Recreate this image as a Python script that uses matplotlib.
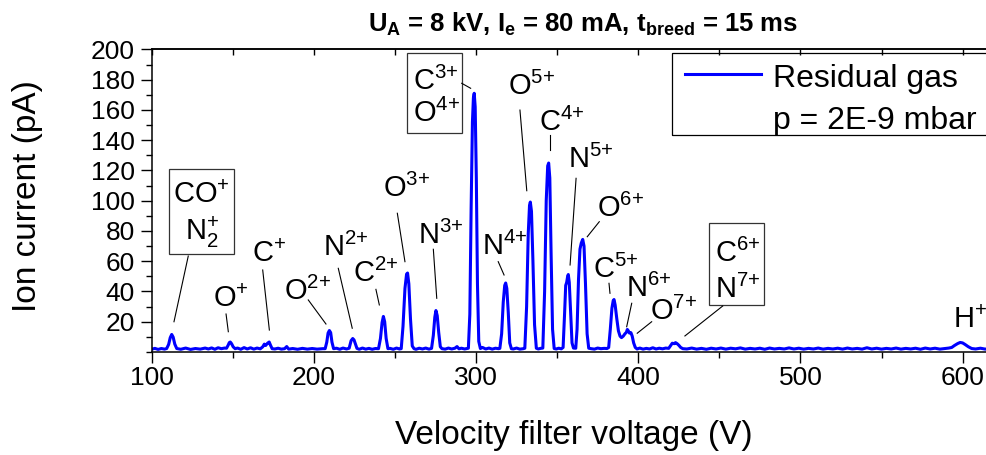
import matplotlib
matplotlib.use("Agg")
import matplotlib.pyplot as plt
from matplotlib.patches import Rectangle
from matplotlib.lines import Line2D
from matplotlib.ticker import MultipleLocator

plt.rcParams['font.family'] = ['Liberation Sans', 'DejaVu Sans']
plt.rcParams['mathtext.fontset'] = 'custom'
plt.rcParams['mathtext.rm'] = 'Liberation Sans'
plt.rcParams['mathtext.it'] = 'Liberation Sans:italic'
plt.rcParams['mathtext.bf'] = 'Liberation Sans:bold'

# ---------------- data ----------------
voltage = [
    100, 102, 104, 106, 108,
    109.3, 110.5, 111.5, 112.4, 113.3, 114.3, 115.5,
    118, 121, 124, 127, 130, 133, 135, 137, 139, 141, 143, 145,
    146.2, 147.2, 147.9, 148.5, 149.3, 150.3, 151.5,
    153, 155, 157, 159, 161, 163, 165, 167,
    168.5, 169.5, 170.3, 171.5, 172.5, 173.3, 174.3,
    176, 178, 180, 182, 183.3, 184.5, 187, 190, 193, 196, 199, 202, 205.5,
    207.0, 208.0, 208.8, 209.6, 210.4, 211.2, 212.2,
    214, 216, 218, 220.2,
    221.8, 223.0, 224.0, 224.8, 225.6, 226.6,
    228, 230, 232, 234, 236, 238,
    239.9, 241.1, 242.1, 242.9, 243.7, 244.6, 245.7,
    247, 249, 251, 252.8,
    253.9, 255.0, 256.2, 257.2, 257.8, 258.6, 259.6, 260.7, 261.8,
    263, 265, 267, 269, 271,
    272.6, 273.7, 274.6, 275.3, 276.1, 277.0, 278.0, 279.0,
    281, 283, 285, 287, 288.3, 289.5, 291, 293, 294.6,
    295.3, 296.2, 297.0, 297.8, 298.4, 298.9, 299.5, 300.2, 300.9, 301.7, 302.7,
    304, 306, 308, 310, 312, 313.9,
    314.7, 315.8, 316.8, 317.7, 318.3, 319.0, 319.9, 320.8, 321.8,
    323, 325, 327, 329.2,
    330.1, 331.2, 332.2, 333.0, 333.5, 334.2, 335.1, 336.1, 337.2,
    338.4, 339.8,
    341.2, 342.3, 343.3, 344.2, 344.8, 345.5, 346.3, 347.2, 348.2,
    349.5, 351, 352.6,
    353.7, 354.6, 355.3, 355.9, 356.5, 356.9, 357.5, 358.3, 359.2, 360.1,
    361.5, 362.3, 363.2, 364.1, 364.9, 365.8, 366.6, 367.5, 368.5, 369.5,
    371, 373, 375, 377, 379, 380.8,
    381.8, 382.8, 383.8, 384.6, 385.1, 385.8, 386.8, 387.8, 388.8, 389.7,
    390.8, 391.8, 392.7, 393.3, 393.9, 394.6, 395.5, 396.3, 397.2, 398.2, 399.3,
    401, 403, 405, 407, 409, 411, 413, 415, 417, 418.8,
    419.8, 421, 422.2, 423, 424, 425, 426.2, 427.5,
    430, 433, 436, 439, 442, 445, 448, 451, 454, 457,
    460, 463, 466, 469, 472, 475, 478, 481, 484, 487,
    490, 493, 496, 499, 502, 505, 508, 511, 514, 517,
    520, 523, 526, 529, 532, 535, 538, 541, 544, 547,
    550, 553, 556, 559, 562, 565, 568, 571, 574, 577,
    580, 583, 586, 589, 591.5,
    593.3, 595, 597, 598.5, 600, 601.5, 603.5, 605.6,
    608, 611, 614, 617, 620,
]
current = [
    1.8, 2.4, 1.7, 2.3, 1.9,
    2.3, 5.0, 9.5, 11.6, 9.8, 5.2, 2.3,
    1.8, 2.6, 1.7, 2.3, 1.9, 2.6, 2.0, 2.7, 1.8, 2.8, 2.2, 2.6,
    2.5, 4.5, 6.2, 6.6, 5.5, 3.4, 2.2,
    2.6, 1.8, 2.9, 2.0, 2.8, 1.9, 2.6, 2.1,
    3.4, 5.2, 4.3, 5.8, 6.6, 4.5, 2.2,
    2.0, 2.5, 1.9, 2.2, 3.6, 1.9, 2.3, 1.8, 2.4, 1.9, 2.3, 1.9, 2.2,
    2.2, 6.5, 12.5, 14.2, 12.8, 6.5, 2.2,
    2.5, 1.8, 2.6, 2.0,
    2.5, 7.5, 8.9, 8.0, 5.5, 2.4,
    1.8, 2.6, 1.9, 2.4, 1.8, 2.3,
    2.2, 9.0, 19.5, 23.5, 20.0, 9.0, 2.2,
    2.4, 1.8, 2.6, 2.0,
    2.2, 17, 42, 51.5, 52.2, 45, 22, 4, 2.2,
    1.8, 2.5, 2.0, 2.6, 1.9,
    2.4, 11, 23, 27.4, 24, 13, 3.5, 2.2,
    1.9, 2.6, 2.0, 2.5, 3.6, 2.1, 2.5, 2.0, 2.4,
    2.5, 25, 95, 152, 168, 171, 162, 115, 45, 7, 2.3,
    3.0, 2.0, 2.6, 1.9, 2.5, 2.2,
    2.4, 12, 33, 44, 45.6, 42, 26, 6, 2.2,
    2.0, 2.6, 1.9, 2.2,
    2.5, 30, 78, 97, 99.1, 93, 60, 18, 2.5,
    2.0, 2.4,
    2.6, 40, 100, 123, 124.9, 115, 65, 15, 2.3,
    2.0, 2.5, 2.1,
    3.0, 25, 44, 46, 50, 51.2, 46, 27, 6, 2.6,
    2.5, 15, 48, 68, 72, 74.4, 70, 45, 12, 2.5,
    2.2, 1.9, 2.6, 2.2, 2.4, 2.3,
    3.0, 15, 29, 34, 34.7, 31, 22, 14, 10.5, 9.5,
    10.5, 12, 13, 14.9, 14, 12.5, 12.8, 10.5, 6, 3, 2.0,
    2.6, 1.9, 2.4, 2.0, 2.8, 2.0, 2.5, 2.1, 2.6, 2.4,
    4.0, 5.8, 5.5, 6.2, 5.5, 4.5, 3.0, 2.2,
    2.0, 2.6, 1.9, 2.4, 1.8, 2.5, 2.0, 2.6, 1.9, 2.5,
    2.1, 2.7, 1.9, 2.4, 2.0, 2.5, 1.8, 2.6, 2.0, 2.4,
    2.0, 2.7, 2.0, 2.5, 1.9, 2.4, 2.0, 2.6, 1.9, 2.4,
    2.0, 2.5, 1.9, 2.6, 2.0, 2.4, 1.9, 2.8, 2.0, 2.5,
    1.9, 2.4, 2.0, 2.6, 1.9, 2.4, 2.0, 2.5, 1.8, 2.6,
    2.0, 2.5, 1.9, 2.3, 2.6,
    3.0, 4.3, 5.6, 6.3, 6.0, 5.0, 3.5, 2.3,
    2.0, 2.5, 1.9, 2.4, 2.0,
]
assert len(voltage) == len(current)

x_ticks = [100, 200, 300, 400, 500, 600]
y_ticks = [20, 40, 60, 80, 100, 120, 140, 160, 180, 200]

peak_labels = ['O$^{{+}}$', 'C$^{{+}}$', 'O$^{2{+}}$', 'N$^{2{+}}$', 'C$^{2{+}}$', 'O$^{3{+}}$',
               'N$^{3{+}}$', 'N$^{4{+}}$', 'O$^{5{+}}$', 'C$^{4{+}}$', 'N$^{5{+}}$', 'O$^{6{+}}$',
               'C$^{5{+}}$', 'N$^{6{+}}$', 'O$^{7{+}}$', 'H$^{{+}}$']
boxed_labels = [('CO$^{{+}}$', 'N$_{2}^{{+}}$'), ('C$^{3{+}}$', 'O$^{4{+}}$'),
                ('C$^{6{+}}$', 'N$^{7{+}}$')]

title = r'U$_\mathbf{A}$ = 8 kV, I$_\mathbf{e}$ = 80 mA, t$_\mathbf{breed}$ = 15 ms'
legend_lines = ['Residual gas', 'p = 2E-9 mbar']

# ---------------- layout ----------------
W, H = 986, 455
fig = plt.figure(figsize=(W / 100, H / 100), dpi=100)
ax_left, ax_bottom_px, ax_top_px = 151.6, 352.0, 49.4
x_min, x_max = 100, 620
px_per_v = 1.622
ax = fig.add_axes([ax_left / W, 1 - ax_bottom_px / H,
                   (x_max - x_min) * px_per_v / W, (ax_bottom_px - ax_top_px) / H])

blue = '#0000ff'
ax.plot(voltage, current, color=blue, lw=2.2, solid_joinstyle='round', label=legend_lines[0])
ax.set_xlim(x_min, x_max)
ax.set_ylim(0, 200)
ax.set_xticks(x_ticks)
ax.set_yticks(y_ticks)
ax.xaxis.set_minor_locator(MultipleLocator(50))
ax.yaxis.set_minor_locator(MultipleLocator(10))
ax.tick_params(axis='both', which='major', labelsize=19, length=8, width=1.0, direction='out')
ax.tick_params(axis='both', which='minor', length=4.5, width=1.0, direction='out')
ax.tick_params(axis='x', which='major', pad=2)
ax.tick_params(axis='y', which='major', pad=4)
for sp in ax.spines.values():
    sp.set_linewidth(1.1)
ax.spines['right'].set_visible(False)

# top ticks pointing inward
ax2 = ax.secondary_xaxis('top')
ax2.set_xticks(x_ticks)
ax2.xaxis.set_minor_locator(MultipleLocator(50))
ax2.tick_params(which='both', direction='in', length=4, width=1.0, labeltop=False)
ax2.spines['top'].set_linewidth(1.1)

ax.set_xlabel('Velocity filter voltage (V)', fontsize=24, va='baseline')
ax.xaxis.set_label_coords(0.5, (ax_bottom_px - 444.3) / (ax_bottom_px - ax_top_px))
ax.set_ylabel('Ion current (pA)', fontsize=24, va='baseline')
ax.yaxis.set_label_coords((36.5 - ax_left) / ((x_max - x_min) * px_per_v),
                          (ax_bottom_px - 196.5) / (ax_bottom_px - ax_top_px))

fig.text(583.5 / W, 1 - 32 / H, title, fontsize=18.5, fontweight='bold',
         ha='center', va='baseline')

# ---------------- annotations ----------------
FS = 21
label_pos = [(138.0, 29.9), (161.7, 59.7), (181.6, 34.4), (205.5, 63.5), (224.0, 46.5),
             (242.7, 102.6), (264.4, 71.4), (303.5, 64.1), (319.9, 169.9), (339.0, 146.3),
             (356.9, 121.4), (374.4, 89.4), (372.3, 48.7), (392.5, 36.5), (407.3, 21.2),
             (593.9, 15.7)]
for txt, (x, y) in zip(peak_labels, label_pos):
    ax.text(x, y, txt, fontsize=FS, ha='left', va='baseline')

boxed_pos = [((131.0, 98.3), (131.0, 74.0), (110.9, 64.6, 151.0, 121.0), 'center'),
             ((261.0, 173.2), (261.0, 152.2), (257.6, 144.5, 291.2, 197.8), 'left'),
             ((447.4, 59.7), (447.4, 35.5), (443.8, 31.1, 477.6, 85.1), 'left')]
for (l1, l2), (p1, p2, box, ha) in zip(boxed_labels, boxed_pos):
    ax.text(p1[0], p1[1], l1, fontsize=FS, ha=ha, va='baseline')
    ax.text(p2[0], p2[1], l2, fontsize=FS, ha=ha, va='baseline')
    ax.add_patch(Rectangle((box[0], box[1]), box[2] - box[0], box[3] - box[1],
                           fill=False, ec='#333333', lw=0.9, clip_on=False))

leaders = [((122.6, 63.4), (113.8, 20.0)), ((145.9, 25.1), (147.3, 13.4)),
           ((168.5, 54.2), (172.6, 14.5)), ((196.6, 34.4), (207.5, 18.5)),
           ((215.1, 55.3), (223.7, 15.7)), ((238.3, 41.4), (240.4, 31.1)),
           ((251.5, 91.7), (256.2, 59.7)), ((273.7, 67.9), (275.8, 35.5)),
           ((291.2, 177.6), (296.7, 174.3)), ((313.7, 59.7), (317.3, 50.9)),
           ((327.1, 159.9), (331.3, 106.6)), ((345.6, 143.4), (345.6, 133.5)),
           ((361.7, 114.8), (358.0, 57.5)), ((376.0, 86.1), (368.6, 76.2)),
           ((382.0, 45.4), (382.6, 38.8)), ((396.0, 32.2), (392.9, 16.7)),
           ((408.3, 20.0), (399.4, 12.4)), ((452.1, 30.4), (428.8, 10.6))]
for (a, b) in leaders:
    ax.plot([a[0], b[0]], [a[1], b[1]], color='black', lw=0.8)

# ---------------- legend (drawn by hand, it runs off the right edge) ----------------
fig.patches.append(Rectangle((671.7 / W, 1 - 135 / H), (1100 - 671.7) / W, (135 - 53.3) / H,
                             transform=fig.transFigure, fill=False, ec='black', lw=0.9))
fig.lines.append(Line2D([685 / W, 760.7 / W], [1 - 74.3 / H] * 2,
                        transform=fig.transFigure, color=blue, lw=2.2))
fig.text(773.3 / W, 1 - 86.7 / H, legend_lines[0], fontsize=23, va='baseline')
fig.text(773.3 / W, 1 - 129.3 / H, legend_lines[1], fontsize=23, va='baseline')

fig.savefig('out.png', dpi=100)
